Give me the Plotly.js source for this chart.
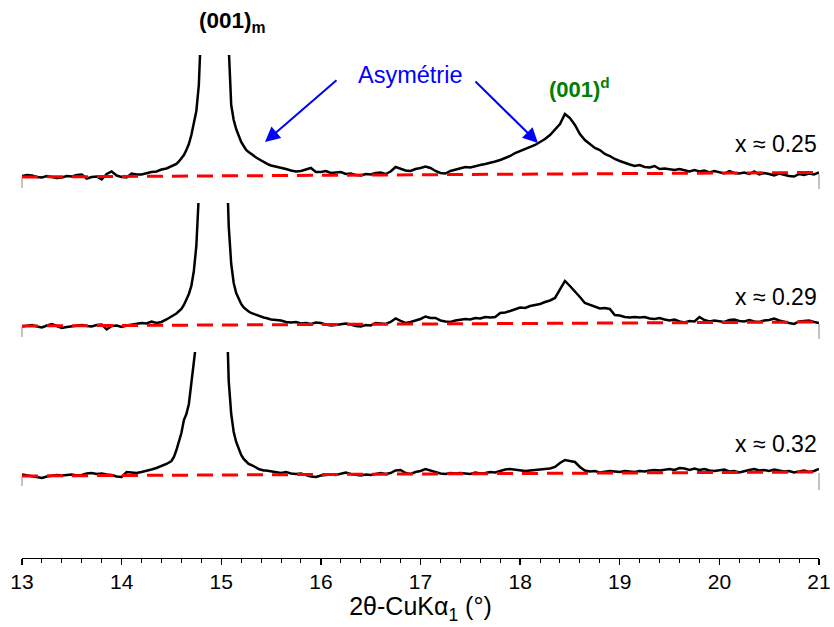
<!DOCTYPE html>
<html>
<head>
<meta charset="utf-8">
<script src="https://cdn.plot.ly/plotly-3.0.1.min.js"></script>
<style>html,body{margin:0;padding:0;background:#fff;}#chart{width:834px;height:627px;}</style>
</head>
<body>
<div id="chart"></div>
<script>
// 2-theta sample positions (degrees)
const twoTheta = [
  13.00,13.05,13.10,13.15,13.20,13.25,13.30,13.35,13.40,13.45,
  13.50,13.55,13.60,13.65,13.70,13.75,13.80,13.85,13.90,13.95,
  14.00,14.05,14.10,14.15,14.20,14.25,14.30,14.35,14.40,14.45,14.50,
  14.525,14.55,14.575,14.60,14.625,14.65,14.675,14.70,14.725,14.75,
  14.775,14.80,14.825,14.85,14.875,14.90,14.925,14.95,14.975,15.00,
  15.025,15.05,15.075,15.10,15.125,15.15,15.175,15.20,15.225,15.25,
  15.275,15.30,15.325,15.35,15.375,15.40,15.425,15.45,15.475,15.50,
  15.55,15.60,15.65,15.70,15.75,15.80,15.85,15.90,15.95,16.00,
  16.05,16.10,16.15,16.20,16.25,16.30,16.35,16.40,16.45,16.50,
  16.55,16.60,16.65,16.70,16.75,16.80,16.85,16.90,16.95,17.00,
  17.05,17.10,17.15,17.20,17.25,17.30,17.35,17.40,17.45,17.50,
  17.55,17.60,17.65,17.70,17.75,17.80,17.85,17.90,17.95,18.00,
  18.05,18.10,18.15,18.20,18.25,18.30,18.35,18.40,18.45,18.50,
  18.55,18.60,18.65,18.70,18.75,18.80,18.85,18.90,18.95,19.00,
  19.05,19.10,19.15,19.20,19.25,19.30,19.35,19.40,19.45,19.50,
  19.55,19.60,19.65,19.70,19.75,19.80,19.85,19.90,19.95,20.00,
  20.05,20.10,20.15,20.20,20.25,20.30,20.35,20.40,20.45,20.50,
  20.55,20.60,20.65,20.70,20.75,20.80,20.85,20.90,20.95,21.00
];

// intensity (a.u.), x ≈ 0.25
const int025 = [
  1,2,1.5,0,-0.5,1,0,-1,-0.5,1,
  0.5,2,2.5,-1.5,0,0.5,-2.5,3,5.5,1.5,
  0,-0.5,3.5,2.5,2.5,4,5,5.5,7.5,8.5,10.5,
  11.5,13,15.5,19,22,27,33,42,53,66,
  92,140,220,320,400,450,470,460,430,380,
  300,210,130,72,57,48,41,35,31,27,
  25,23,21,19.5,18,16.5,15,13.5,12.5,11.5,
  10.5,9.5,8,6.5,5.5,6,7.5,9,5,5,
  6,4,4.5,5,3,3.5,2,1.5,3,2.5,
  4,4.5,3,5.5,10,8.5,6.5,6,8,9,
  10.5,9,6,4,3.5,6,7.5,8.5,10,9.5,
  11,12,13,14,15.5,17,19,21,24,26,
  28,30,32,35,38,42,47,53,63,59,
  52,43,37,33,29,27,23,21,18,16,
  14,12.5,11,12,10,9.5,11,8,8.5,7.5,
  7,8,6.5,5.5,7,5.5,6.5,4.5,6,5,
  3.5,6,4,3.5,4.5,3,5.5,2.5,4,3,
  1.5,3.5,2,1,0.5,3,2,3.5,2.5,4.5
];

// intensity (a.u.), x ≈ 0.29
const int029 = [
  -0.5,0.5,1,-0.5,-1.5,0.5,2,0,-2,-1,
  -0.5,0.5,1,0,-0.5,1,1.5,-3.5,0,0.5,
  -1,0.5,1.5,2,3,2.5,4.5,3,4,6.5,9,
  11,12.5,14.5,17,21,26,32,40,55,80,
  125,180,260,340,400,430,440,430,400,340,
  260,180,100,62,43,33,27,22,18.5,16,
  14.5,13,12,11,10,9.5,8.5,8,7,6.5,
  6,5.5,4,3.5,4,2.5,3,2,3.5,3,
  1.5,0.5,1,2,2.5,1.5,0,-0.5,1,0.5,
  3,2.5,2,4,7.5,5,3,4,5.5,7,
  9.5,8,8,5.5,4.5,4,5.5,6,7,6.5,
  8,7.5,9,8.5,9,13,13.5,15,17,18.5,
  18,20,21,22,24,25.5,28,36,45,40,
  35,29,23,21,19.5,17.5,18,17,11,10.5,
  9,8.5,9,8.5,9,7.5,7,8,6.5,5.5,
  6.5,4.5,3.5,5,4.5,9,6,4.5,5.5,5,
  4,6,6.5,5,4.5,6,4.5,4,5.5,6,
  7.5,5.5,4,3,2,4.5,5,5.5,4,3
];

// intensity (a.u.), x ≈ 0.32
const int032 = [
  1.5,0.5,0,-1.5,-2,-0.5,0,1,0.5,1,
  1.5,0.5,1,2.5,3,2,2.5,1.5,1,-0.5,
  -1,4,3.5,3,4,5,6.5,8,10,12,15,
  19,26,34,43,56,62,72,92,112,135,
  190,260,330,390,430,450,455,445,420,370,
  290,180,95,62,44,34,27,21,17,14,
  12,11,10,8.5,7,6,5.5,5.5,5,4.5,
  3.5,3,4,2.5,2,2.5,1,-0.5,-1,0.5,
  1,1.5,1,2.5,3.5,2,1,0.5,1.5,1,
  2,3,2,3,5.5,6,3,2,4,5,
  7,5.5,4,2.5,2,3,2.5,3,2.5,2,
  3.5,2.5,3,4,3.5,5,6.5,7,6.5,6,
  5,5.5,6,6.5,7,7.5,9,13,16,15,
  14,9,5.5,4.5,5,3.5,4,5,4.5,4,
  5,4.5,4,5,4.5,5.5,6,5.5,6.5,7,
  6,8,7.5,6,7.5,6,7,5.5,5,6,
  6.5,4.5,5,3.5,5,6,7,5.5,6,5,
  6.5,5.5,4.5,5,3.5,4.5,5.5,4,5,7
];

// linear backgrounds (red dashed)
const bgTheta = [13, 21];
const bg025 = [0, 4.5];
const bg029 = [0, 4];
const bg032 = [0, 4];

const sampleLabels = ['x \u2248 0.25', 'x \u2248 0.29', 'x \u2248 0.32'];
const xTicks = [13, 14, 15, 16, 17, 18, 19, 20, 21];

const FONT = 'Liberation Sans, Arial, sans-serif';

const black = {color: '#000', width: 2.5};
const red = {color: '#ff0000', width: 3, dash: '16px,9px'};

const traces = [
  {x: twoTheta, y: int025, xaxis: 'x', yaxis: 'y',  mode: 'lines', line: black, hoverinfo: 'skip'},
  {x: twoTheta, y: int029, xaxis: 'x', yaxis: 'y2', mode: 'lines', line: black, hoverinfo: 'skip'},
  {x: twoTheta, y: int032, xaxis: 'x', yaxis: 'y3', mode: 'lines', line: black, hoverinfo: 'skip'},
  {x: bgTheta, y: bg025, xaxis: 'x', yaxis: 'y',  mode: 'lines', line: red, hoverinfo: 'skip'},
  {x: bgTheta, y: bg029, xaxis: 'x', yaxis: 'y2', mode: 'lines', line: red, hoverinfo: 'skip'},
  {x: bgTheta, y: bg032, xaxis: 'x', yaxis: 'y3', mode: 'lines', line: red, hoverinfo: 'skip'}
];

const hiddenY = {visible: false, showgrid: false, zeroline: false, fixedrange: true};

const grayStub = (yref, y0, y1, xp) => ({type: 'line', xref: 'paper', yref: yref, x0: xp, x1: xp, y0: y0, y1: y1, line: {color: '#888', width: 1}});

const layout = {
  width: 834, height: 627,
  margin: {l: 22, r: 15, t: 0, b: 69},
  paper_bgcolor: '#fff', plot_bgcolor: 'rgba(0,0,0,0)',
  showlegend: false,
  font: {family: FONT, color: '#000'},
  xaxis: {
    anchor: 'y3', range: [13, 21], tickmode: 'array', tickvals: xTicks,
    ticks: 'outside', ticklen: 6, tickwidth: 1.3, tickcolor: '#000',
    showline: true, linecolor: '#000', linewidth: 1.3, mirror: false,
    showgrid: false, zeroline: false, ticklabelstandoff: -2,
    minor: {dtick: 0.2, tick0: 13, ticks: 'outside', ticklen: 3.5, tickwidth: 1, tickcolor: '#000', showgrid: false},
    tickfont: {family: FONT, size: 21, color: '#000'},
    title: {text: '2\u03b8-CuK\u03b1<sub>1</sub> (\u00b0)', font: {family: FONT, size: 25, color: '#000'}, standoff: 4}
  },
  yaxis:  Object.assign({domain: [0.6398, 0.9014], range: [-24, 122]}, hiddenY),
  yaxis2: Object.assign({domain: [0.3728, 0.6362], range: [-24, 123]}, hiddenY),
  yaxis3: Object.assign({domain: [0, 0.3692], range: [-82, 124]}, hiddenY),
  shapes: [
    grayStub('y', -1, -11, 0), grayStub('y', 3, -12, 1),
    grayStub('y2', -1, -11, 0), grayStub('y2', 2, -13, 1),
    grayStub('y3', -1, -10, 0), grayStub('y3', 3, -14, 1)
  ],
  annotations: [
    {xref: 'paper', yref: 'paper', x: 0.2635, y: 0.9606, text: '<b>(001)<sub>m</sub></b>', showarrow: false,
     font: {family: FONT, size: 22.5, color: '#000'}, xanchor: 'center', yanchor: 'middle'},
    {xref: 'paper', yref: 'paper', x: 0.700, y: 0.8423, text: '<b>(001)<sup>d</sup></b>', showarrow: false,
     font: {family: FONT, size: 22, color: '#008000'}, xanchor: 'center', yanchor: 'middle'},
    {xref: 'paper', yref: 'paper', x: 0.4868, y: 0.8656, text: 'Asymétrie', showarrow: false,
     font: {family: FONT, size: 23.5, color: '#0000ff'}, xanchor: 'center', yanchor: 'middle'},
    {xref: 'paper', yref: 'paper', x: 0.3049, y: 0.7455, ax: 73, ay: -63, text: '', showarrow: true,
     arrowhead: 2, arrowsize: 1.5, arrowwidth: 2, arrowcolor: '#0000ff', standoff: 0},
    {xref: 'paper', yref: 'paper', x: 0.6474, y: 0.7437, ax: -64, ay: -63, text: '', showarrow: true,
     arrowhead: 2, arrowsize: 1.5, arrowwidth: 2, arrowcolor: '#0000ff', standoff: 0},
    {xref: 'paper', yref: 'paper', x: 1.0, y: 0.742, text: sampleLabels[0], showarrow: false,
     font: {family: FONT, size: 23, color: '#000'}, xanchor: 'right', yanchor: 'middle'},
    {xref: 'paper', yref: 'paper', x: 1.0, y: 0.4677, text: sampleLabels[1], showarrow: false,
     font: {family: FONT, size: 23, color: '#000'}, xanchor: 'right', yanchor: 'middle'},
    {xref: 'paper', yref: 'paper', x: 1.0, y: 0.2043, text: sampleLabels[2], showarrow: false,
     font: {family: FONT, size: 23, color: '#000'}, xanchor: 'right', yanchor: 'middle'}
  ]
};

Plotly.newPlot('chart', traces, layout, {staticPlot: true, displayModeBar: false});
</script>
</body>
</html>
